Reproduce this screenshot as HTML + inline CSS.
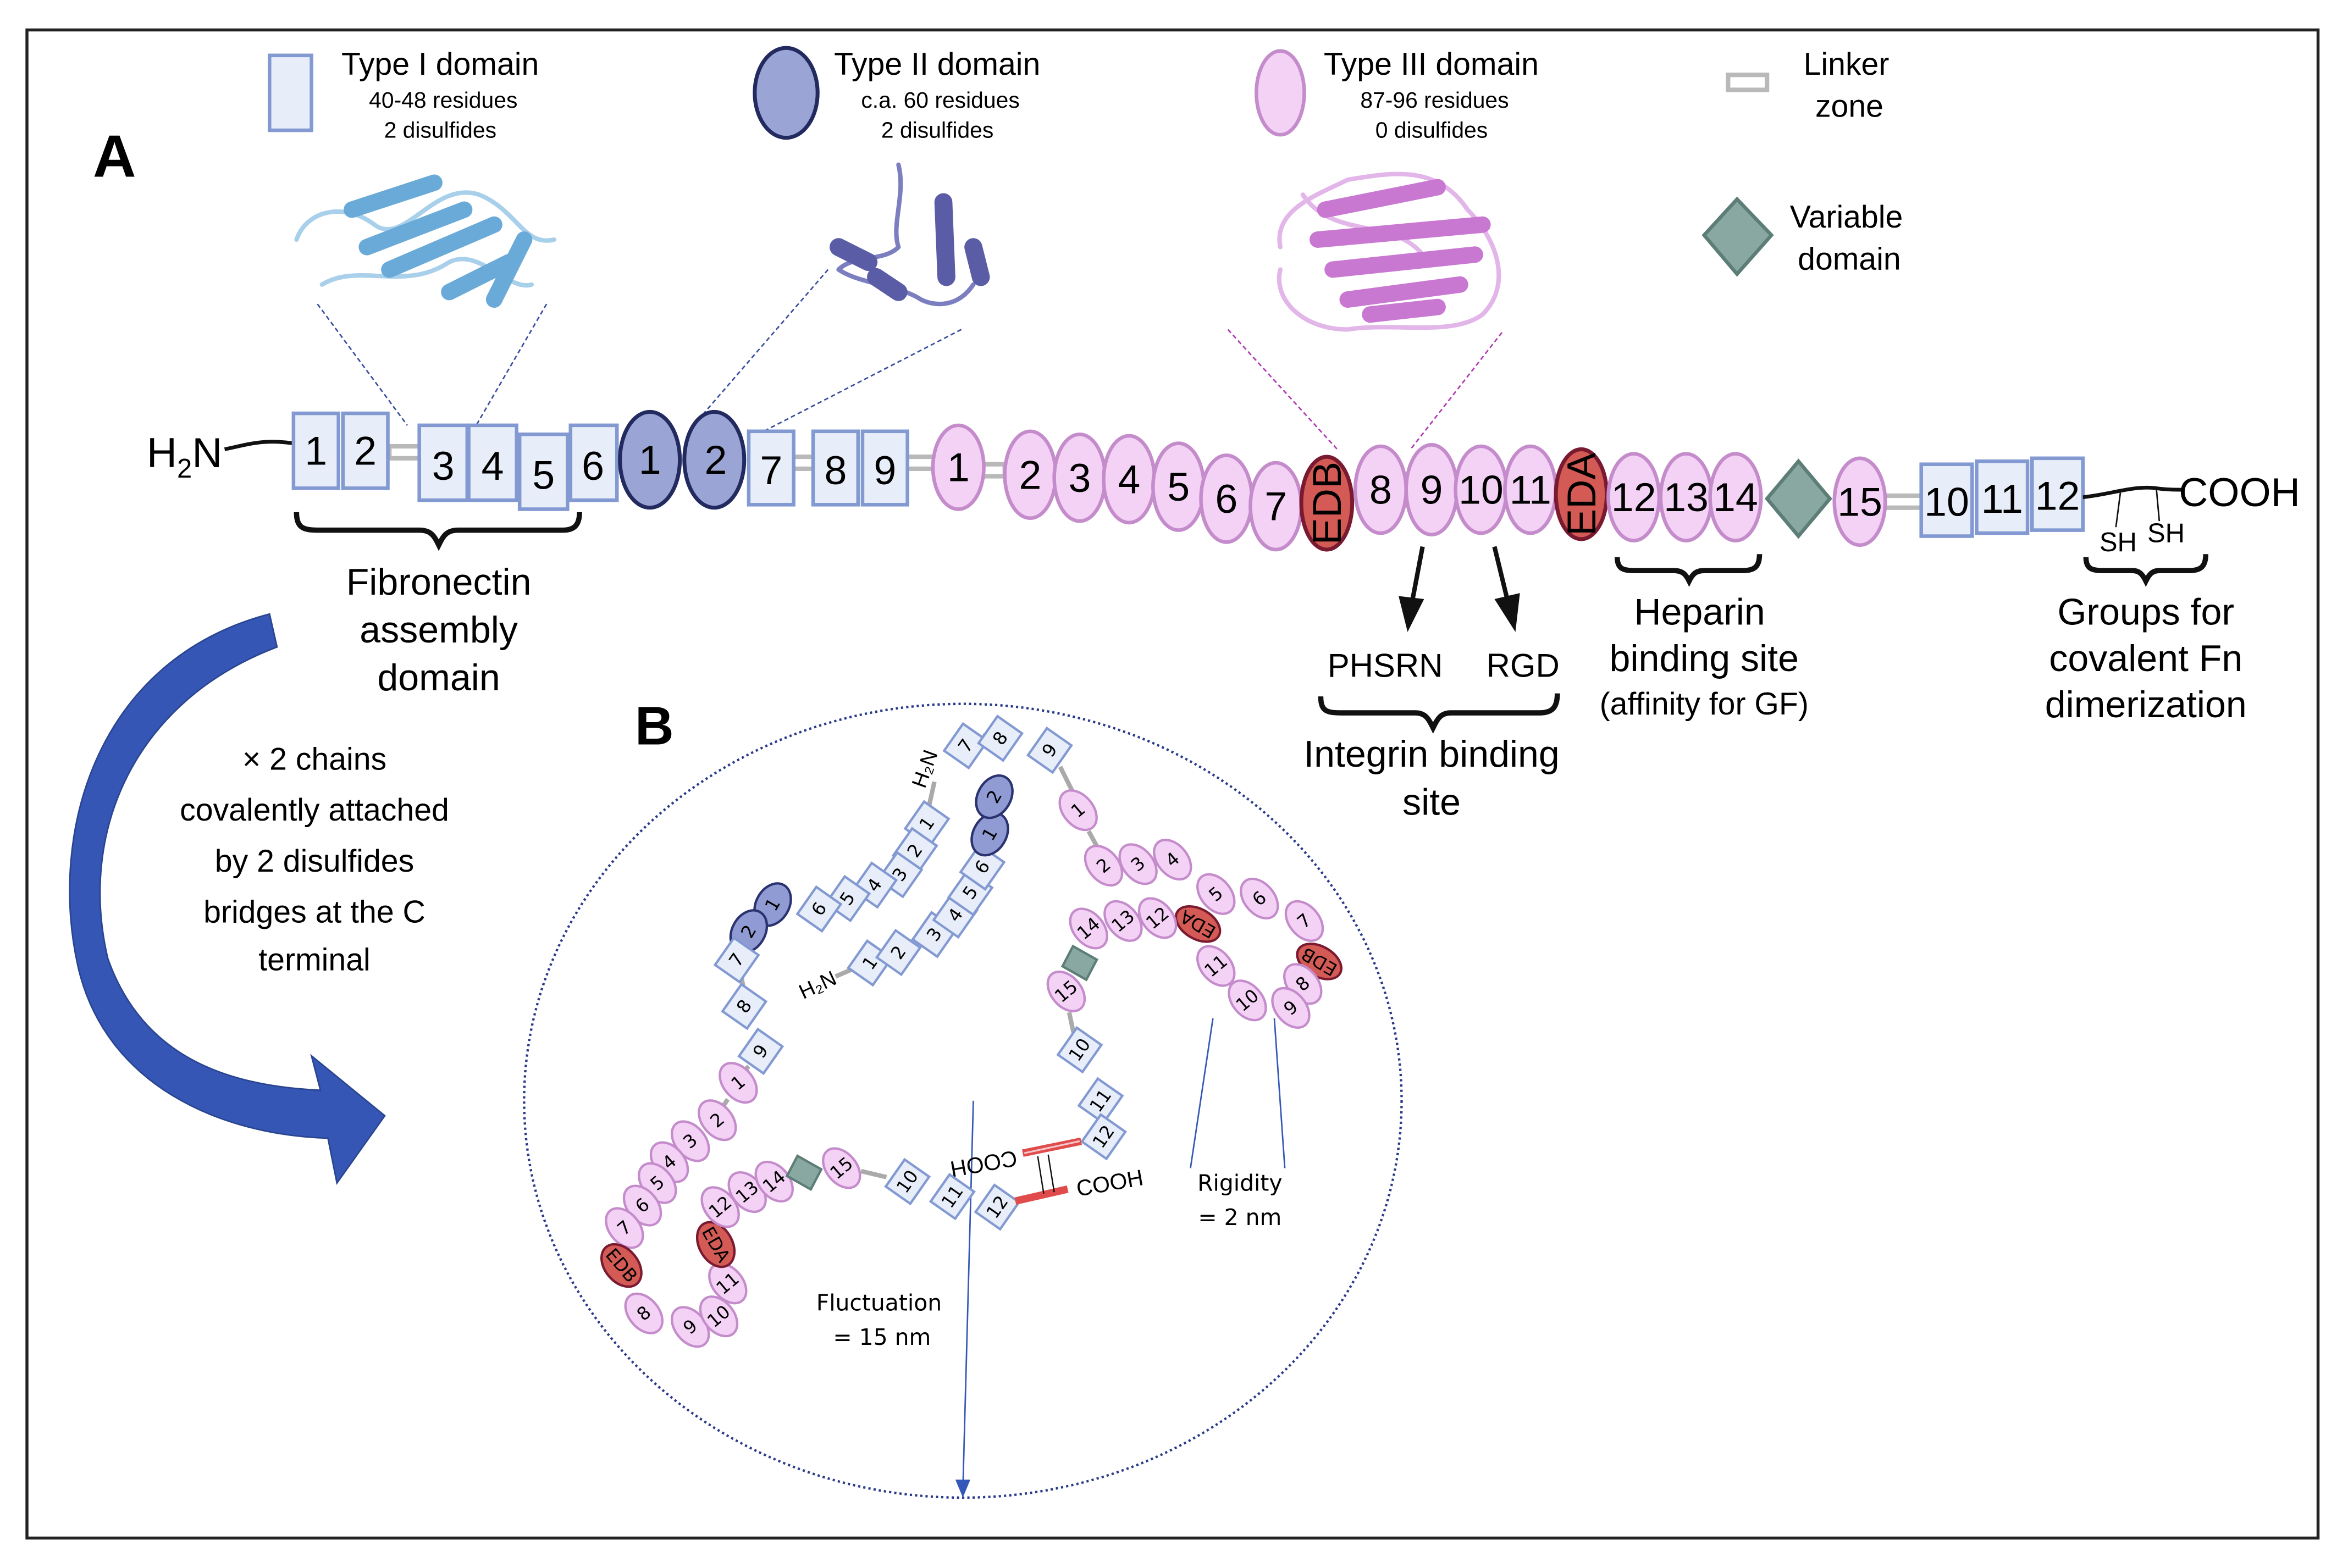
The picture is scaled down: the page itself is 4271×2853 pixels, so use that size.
<!DOCTYPE html>
<html><head><meta charset="utf-8">
<style>
html,body{margin:0;padding:0;background:#fff}
svg{display:block}
.t1{fill:#e8eef9;stroke:#8399d2;stroke-width:2.4}
.t2{fill:#9aa5d6;stroke:#222a60;stroke-width:2.6}
.t3{fill:#f3d2f6;stroke:#c58ccb;stroke-width:2.4}
.ed{fill:#d35a55;stroke:#7a1a30;stroke-width:2.6}
.dv{fill:#8aa8a2;stroke:#5d7d77;stroke-width:2.4}
.lk{fill:#fff;stroke:#b9b9b9;stroke-width:3}
text{font-family:"Liberation Sans Narrow","Liberation Sans",sans-serif;fill:#000}
.n{font-size:27px;text-anchor:middle;dominant-baseline:central}
.s{font-size:12px;text-anchor:middle;dominant-baseline:central;font-family:"DejaVu Sans","Liberation Sans",sans-serif}
.lab{font-size:25px;text-anchor:middle}
.c{font-family:"DejaVu Sans","Liberation Sans",sans-serif;text-anchor:middle}
.bt1{fill:#e8eef9;stroke:#8399d2;stroke-width:1.6}
.bt2{fill:#8f9bd2;stroke:#2a3270;stroke-width:1.6}
.bt3{fill:#f3d2f6;stroke:#c58ccb;stroke-width:1.6}
.bed{fill:#d35a55;stroke:#7a1a30;stroke-width:1.6}
</style></head><body>
<svg width="4271" height="2853" viewBox="0 0 1568 1047" preserveAspectRatio="none" xmlns="http://www.w3.org/2000/svg">
<rect x="0" y="0" width="1568" height="1047" fill="#fff"/>
<rect x="18" y="20" width="1530" height="1007" fill="none" stroke="#222" stroke-width="2"/>

<!-- Legend -->
<rect class="t1" x="180" y="37" width="28" height="50"/>
<text x="228" y="50" font-size="21">Type I domain</text>
<text x="296" y="72" font-size="15" text-anchor="middle">40-48 residues</text>
<text x="294" y="92" font-size="15" text-anchor="middle">2 disulfides</text>
<ellipse class="t2" cx="525" cy="62" rx="21" ry="30"/>
<text x="557" y="50" font-size="21">Type II domain</text>
<text x="628" y="72" font-size="15" text-anchor="middle">c.a. 60 residues</text>
<text x="626" y="92" font-size="15" text-anchor="middle">2 disulfides</text>
<ellipse class="t3" cx="855" cy="62" rx="16" ry="28"/>
<text x="884" y="50" font-size="21">Type III domain</text>
<text x="958" y="72" font-size="15" text-anchor="middle">87-96 residues</text>
<text x="956" y="92" font-size="15" text-anchor="middle">0 disulfides</text>
<rect class="lk" x="1154" y="50" width="26" height="10"/>
<text x="1233" y="50" font-size="21" text-anchor="middle">Linker</text>
<text x="1235" y="78" font-size="21" text-anchor="middle">zone</text>
<polygon class="dv" points="1160,133 1183,157 1160,183 1138,157"/>
<text x="1233" y="152" font-size="21" text-anchor="middle">Variable</text>
<text x="1235" y="180" font-size="21" text-anchor="middle">domain</text>
<text x="62" y="118" font-size="40" font-weight="bold" font-family="Liberation Sans,sans-serif">A</text>

<!-- protein cartoons -->
<g fill="none" stroke-linecap="round" stroke-linejoin="round">
<path d="M198,160 C205,140 230,135 250,150 C270,165 290,120 320,130 C345,140 350,165 370,160 M215,190 C240,175 270,195 300,175 C320,165 340,195 355,190" stroke="#a9d0ea" stroke-width="3"/>
<path d="M235,140 L290,122 M245,165 L310,140 M260,180 L330,150 M300,195 L340,175 M330,200 L350,160" stroke="#6aaad8" stroke-width="11"/>
<path d="M600,110 C605,130 595,150 600,165 C590,175 570,170 560,180 C575,190 600,190 615,200 C625,205 640,205 650,190" stroke="#7c7fbf" stroke-width="3"/>
<path d="M630,135 L632,185 M650,165 L655,185 M560,165 L580,175 M585,185 L600,195" stroke="#5a5ca6" stroke-width="12"/>
<path d="M855,165 C850,140 880,130 900,120 C930,115 960,110 980,140 C1000,160 1010,190 990,210 C970,225 930,215 900,220 C870,220 850,200 855,180 M870,130 C890,160 930,145 950,170" stroke="#e3b6ea" stroke-width="3"/>
<path d="M885,140 L960,125 M880,160 L990,150 M890,180 L985,170 M900,200 L975,190 M915,210 L960,205" stroke="#c978d2" stroke-width="11"/>
</g>
<g stroke-dasharray="3,2" stroke-width="1">
<line x1="212" y1="203" x2="272" y2="284" stroke="#3c4f9e"/>
<line x1="365" y1="203" x2="318" y2="284" stroke="#3c4f9e"/>
<line x1="553" y1="180" x2="470" y2="276" stroke="#3c4f9e"/>
<line x1="642" y1="220" x2="510" y2="288" stroke="#3c4f9e"/>
<line x1="820" y1="220" x2="893" y2="300" stroke="#b03ab4"/>
<line x1="1003" y1="222" x2="942" y2="300" stroke="#b03ab4"/>
</g>

<!-- main chain -->
<text x="98" y="312" font-size="28" font-family="Liberation Sans,sans-serif">H<tspan font-size="18" dy="7">2</tspan><tspan dy="-7">N</tspan></text>
<path d="M150,300 C165,297 175,293 196,296" stroke="#111" stroke-width="2.5" fill="none"/>
<rect class="lk" x="260" y="298" width="22" height="8"/>
<rect class="lk" x="528" y="305" width="18" height="8"/>
<rect class="lk" x="604" y="305" width="22" height="8"/>
<rect class="lk" x="655" y="310" width="16" height="8"/>
<rect class="lk" x="1258" y="331" width="26" height="8"/>
<rect class="t1" x="196" y="276" width="30" height="50"/><text class="n" x="211" y="301">1</text>
<rect class="t1" x="229" y="276" width="30" height="50"/><text class="n" x="244" y="301">2</text>
<rect class="t1" x="280" y="284" width="32" height="50"/><text class="n" x="296" y="311">3</text>
<rect class="t1" x="313" y="284" width="32" height="50"/><text class="n" x="329" y="311">4</text>
<rect class="t1" x="347" y="290" width="32" height="50"/><text class="n" x="363" y="317">5</text>
<rect class="t1" x="381" y="284" width="31" height="50"/><text class="n" x="396" y="311">6</text>
<ellipse class="t2" cx="434" cy="307" rx="20" ry="32"/><text class="n" x="434" y="307">1</text>
<ellipse class="t2" cx="477" cy="307" rx="20" ry="32"/><text class="n" x="478" y="307">2</text>
<rect class="t1" x="500" y="288" width="30" height="49"/><text class="n" x="515" y="314">7</text>
<rect class="t1" x="543" y="288" width="30" height="49"/><text class="n" x="558" y="314">8</text>
<rect class="t1" x="576" y="288" width="30" height="49"/><text class="n" x="591" y="314">9</text>
<ellipse class="t3" cx="640" cy="312" rx="17" ry="28"/><text class="n" x="640" y="312">1</text>
<ellipse class="t3" cx="688" cy="317" rx="17" ry="29"/><text class="n" x="688" y="317">2</text>
<ellipse class="t3" cx="721" cy="319" rx="17" ry="29"/><text class="n" x="721" y="319">3</text>
<ellipse class="t3" cx="754" cy="320" rx="17" ry="29"/><text class="n" x="754" y="320">4</text>
<ellipse class="t3" cx="787" cy="325" rx="17" ry="29"/><text class="n" x="787" y="325">5</text>
<ellipse class="t3" cx="819" cy="333" rx="17" ry="29"/><text class="n" x="819" y="333">6</text>
<ellipse class="t3" cx="852" cy="338" rx="17" ry="29"/><text class="n" x="852" y="338">7</text>
<ellipse class="ed" cx="886" cy="336" rx="17" ry="31"/><text class="n" x="886" y="336" transform="rotate(-90 886 336)" font-size="22">EDB</text>
<ellipse class="t3" cx="922" cy="327" rx="17" ry="29"/><text class="n" x="922" y="327">8</text>
<ellipse class="t3" cx="956" cy="327" rx="17" ry="30"/><text class="n" x="956" y="327">9</text>
<ellipse class="t3" cx="989" cy="327" rx="17" ry="29"/><text class="n" x="989" y="327" font-size="24">10</text>
<ellipse class="t3" cx="1022" cy="327" rx="17" ry="29"/><text class="n" x="1022" y="327" font-size="24">11</text>
<ellipse class="ed" cx="1056" cy="330" rx="17" ry="30"/><text class="n" x="1056" y="330" transform="rotate(-90 1056 330)" font-size="22">EDA</text>
<ellipse class="t3" cx="1091" cy="332" rx="17" ry="29"/><text class="n" x="1091" y="332" font-size="24">12</text>
<ellipse class="t3" cx="1126" cy="332" rx="17" ry="29"/><text class="n" x="1126" y="332" font-size="24">13</text>
<ellipse class="t3" cx="1159" cy="332" rx="17" ry="29"/><text class="n" x="1159" y="332" font-size="24">14</text>
<polygon class="dv" points="1201,308 1222,333 1201,358 1180,333"/>
<ellipse class="t3" cx="1242" cy="335" rx="17" ry="29"/><text class="n" x="1242" y="335" font-size="24">15</text>
<rect class="t1" x="1283" y="310" width="34" height="48"/><text class="n" x="1300" y="335" font-size="24">10</text>
<rect class="t1" x="1320" y="308" width="34" height="48"/><text class="n" x="1337" y="333" font-size="24">11</text>
<rect class="t1" x="1357" y="306" width="34" height="48"/><text class="n" x="1374" y="331" font-size="24">12</text>
<path d="M1391,332 C1410,330 1425,324 1440,326 C1447,327 1452,327 1458,327" stroke="#111" stroke-width="2.5" fill="none"/>
<line x1="1416" y1="329" x2="1413" y2="352" stroke="#111" stroke-width="1"/>
<line x1="1440" y1="326" x2="1442" y2="348" stroke="#111" stroke-width="1"/>
<text x="1455" y="338" font-size="27" font-family="Liberation Sans,sans-serif">COOH</text>
<text x="1402" y="368" font-size="18">SH</text><text x="1434" y="362" font-size="18">SH</text>

<!-- braces -->
<g fill="none" stroke="#111" stroke-width="3.5">
<path d="M198,342 C198,352 202,354 212,354 L280,354 C288,354 290,358 293,364 C296,358 298,354 306,354 L376,354 C384,354 387,350 387,342"/>
<path d="M1080,372 C1080,380 1084,381 1092,381 L1118,381 C1124,381 1126,384 1128,388 C1130,384 1132,381 1138,381 L1164,381 C1172,381 1175,378 1175,370"/>
<path d="M1393,372 C1393,380 1397,381 1405,381 L1424,381 C1429,381 1431,384 1433,388 C1435,384 1437,381 1442,381 L1462,381 C1470,381 1473,378 1473,370"/>
<path d="M882,465 C882,475 886,476 896,476 L945,476 C952,476 954,480 957,486 C960,480 962,476 969,476 L1028,476 C1037,476 1040,472 1040,463"/>
</g>
<g stroke="#111" stroke-width="3">
<line x1="950" y1="365" x2="943" y2="402"/>
<line x1="998" y1="365" x2="1007" y2="402"/>
</g>
<polygon points="934,398 951,400 940,422" fill="#111"/>
<polygon points="998,400 1015,396 1012,422" fill="#111"/>

<text class="lab" x="293" y="397">Fibronectin</text>
<text class="lab" x="293" y="429">assembly</text>
<text class="lab" x="293" y="461">domain</text>
<text x="925" y="452" font-size="22" text-anchor="middle">PHSRN</text>
<text x="1017" y="452" font-size="22" text-anchor="middle">RGD</text>
<text class="lab" x="956" y="512">Integrin binding</text>
<text class="lab" x="956" y="544">site</text>
<text class="lab" x="1135" y="417">Heparin</text>
<text class="lab" x="1138" y="448">binding site</text>
<text x="1138" y="477" font-size="21" text-anchor="middle">(affinity for GF)</text>
<text class="lab" x="1433" y="417">Groups for</text>
<text class="lab" x="1433" y="448">covalent Fn</text>
<text class="lab" x="1433" y="479">dimerization</text>

<!-- curved arrow -->
<path d="M180,410 L185,432 C90,468 52,555 72,640 C95,705 150,725 214,728 L208,705 L257,745 L225,790 L219,760 C148,758 70,725 52,645 C32,555 65,440 180,410 Z" fill="#3556b4" stroke="#2a4590" stroke-width="1"/>
<g class="c" font-size="21">
<text x="210" y="514">× 2 chains</text>
<text x="210" y="548">covalently attached</text>
<text x="210" y="582">by 2 disulfides</text>
<text x="210" y="616">bridges at the C</text>
<text x="210" y="648">terminal</text>
</g>

<!-- B -->
<text x="424" y="497" font-size="36" font-weight="bold" font-family="Liberation Sans,sans-serif">B</text>
<ellipse cx="643" cy="735" rx="293" ry="265" fill="none" stroke="#2a3a8a" stroke-width="1.6" stroke-dasharray="1.5,2"/>
<line x1="650" y1="735" x2="643" y2="995" stroke="#3558b8" stroke-width="1"/>
<polygon points="638,988 648,988 643,1000" fill="#3558b8"/>
<line x1="810" y1="680" x2="795" y2="780" stroke="#3558b8" stroke-width="1"/>
<line x1="851" y1="680" x2="858" y2="780" stroke="#3558b8" stroke-width="1"/>
<text class="c" x="828" y="795" font-size="15">Rigidity</text>
<text class="c" x="828" y="818" font-size="15">= 2 nm</text>
<text class="c" x="587" y="875" font-size="15">Fluctuation</text>
<text class="c" x="589" y="898" font-size="15">= 15 nm</text>

<!-- linkers B -->
<g stroke="#aaa" stroke-width="3">
<line x1="558" y1="652" x2="572" y2="646"/>
<line x1="624" y1="522" x2="620" y2="540"/>
<line x1="656" y1="497" x2="658" y2="490"/>
<line x1="708" y1="512" x2="716" y2="528"/>
<line x1="727" y1="555" x2="733" y2="566"/>
<line x1="714" y1="676" x2="717" y2="690"/>
<line x1="495" y1="652" x2="497" y2="662"/>
<line x1="500" y1="712" x2="496" y2="716"/>
<line x1="486" y1="734" x2="482" y2="740"/>
<line x1="575" y1="782" x2="592" y2="786"/>
</g>

<!-- chain 1 -->
<text x="548" y="662" font-size="14" font-family="Liberation Sans,sans-serif" text-anchor="middle" transform="rotate(-25 548 662)">H₂N</text>
<g transform="translate(581,643) rotate(35)"><rect class="bt1" x="-10" y="-11" width="20" height="22"/><text class="s" transform="rotate(-90)">1</text></g>
<g transform="translate(600,636) rotate(35)"><rect class="bt1" x="-10" y="-11" width="20" height="22"/><text class="s" transform="rotate(-90)">2</text></g>
<g transform="translate(624,624) rotate(35)"><rect class="bt1" x="-10" y="-11" width="20" height="22"/><text class="s" transform="rotate(-90)">3</text></g>
<g transform="translate(638,611) rotate(35)"><rect class="bt1" x="-10" y="-11" width="20" height="22"/><text class="s" transform="rotate(-90)">4</text></g>
<g transform="translate(648,596) rotate(35)"><rect class="bt1" x="-10" y="-11" width="20" height="22"/><text class="s" transform="rotate(-90)">5</text></g>
<g transform="translate(656,579) rotate(35)"><rect class="bt1" x="-10" y="-11" width="20" height="22"/><text class="s" transform="rotate(-90)">6</text></g>
<g transform="translate(661,557) rotate(30)"><ellipse class="bt2" rx="11" ry="15"/><text class="s" transform="rotate(-90)">1</text></g>
<g transform="translate(664,532) rotate(30)"><ellipse class="bt2" rx="11" ry="15"/><text class="s" transform="rotate(-90)">2</text></g>
<g transform="translate(645,498) rotate(35)"><rect class="bt1" x="-10" y="-11" width="20" height="22"/><text class="s" transform="rotate(-90)">7</text></g>
<g transform="translate(668,493) rotate(35)"><rect class="bt1" x="-10" y="-11" width="20" height="22"/><text class="s" transform="rotate(-90)">8</text></g>
<g transform="translate(701,501) rotate(35)"><rect class="bt1" x="-10" y="-11" width="20" height="22"/><text class="s" transform="rotate(-90)">9</text></g>
<g transform="translate(720,541) rotate(-40)"><ellipse class="bt3" rx="10" ry="15"/><text class="s">1</text></g>
<g transform="translate(737,578) rotate(-40)"><ellipse class="bt3" rx="10" ry="15"/><text class="s">2</text></g>
<g transform="translate(760,577) rotate(-40)"><ellipse class="bt3" rx="10" ry="15"/><text class="s">3</text></g>
<g transform="translate(783,574) rotate(-40)"><ellipse class="bt3" rx="10" ry="15"/><text class="s">4</text></g>
<g transform="translate(812,597) rotate(-40)"><ellipse class="bt3" rx="10" ry="15"/><text class="s">5</text></g>
<g transform="translate(841,600) rotate(-40)"><ellipse class="bt3" rx="10" ry="15"/><text class="s">6</text></g>
<g transform="translate(871,615) rotate(-40)"><ellipse class="bt3" rx="10" ry="15"/><text class="s">7</text></g>
<g transform="translate(881,642) rotate(-60)"><ellipse class="bed" rx="10" ry="16"/><text class="s" font-size="10" transform="rotate(-90)">EDB</text></g>
<g transform="translate(870,657) rotate(-40)"><ellipse class="bt3" rx="10" ry="15"/><text class="s">8</text></g>
<g transform="translate(862,673) rotate(-40)"><ellipse class="bt3" rx="10" ry="15"/><text class="s">9</text></g>
<g transform="translate(833,668) rotate(-40)"><ellipse class="bt3" rx="10" ry="15"/><text class="s">10</text></g>
<g transform="translate(812,645) rotate(-40)"><ellipse class="bt3" rx="10" ry="15"/><text class="s">11</text></g>
<g transform="translate(800,617) rotate(-60)"><ellipse class="bed" rx="10" ry="16"/><text class="s" font-size="10" transform="rotate(-90)">EDA</text></g>
<g transform="translate(773,613) rotate(-40)"><ellipse class="bt3" rx="10" ry="15"/><text class="s">12</text></g>
<g transform="translate(750,615) rotate(-40)"><ellipse class="bt3" rx="10" ry="15"/><text class="s">13</text></g>
<g transform="translate(727,620) rotate(-40)"><ellipse class="bt3" rx="10" ry="15"/><text class="s">14</text></g>
<g transform="translate(721,643) rotate(20)"><polygon points="-8,-9 10,-6 8,9 -10,6" fill="#8aa8a2" stroke="#5d7d77" stroke-width="1.6"/></g>
<g transform="translate(712,662) rotate(-40)"><ellipse class="bt3" rx="10" ry="15"/><text class="s">15</text></g>
<g transform="translate(721,701) rotate(35)"><rect class="bt1" x="-10" y="-11" width="20" height="22"/><text class="s" transform="rotate(-90)">10</text></g>
<g transform="translate(735,735) rotate(35)"><rect class="bt1" x="-10" y="-11" width="20" height="22"/><text class="s" transform="rotate(-90)">11</text></g>
<g transform="translate(737,759) rotate(35)"><rect class="bt1" x="-10" y="-11" width="20" height="22"/><text class="s" transform="rotate(-90)">12</text></g>
<line x1="683" y1="770" x2="722" y2="762" stroke="#e04c4c" stroke-width="5"/>
<line x1="684" y1="770" x2="721" y2="762" stroke="#f4c8c8" stroke-width="1.2"/>
<text x="656" y="772" font-size="15" font-family="DejaVu Sans,sans-serif" text-anchor="middle" transform="rotate(170 656 772)">COOH</text>
<!-- chain 2 -->
<text x="622" y="515" font-size="14" font-family="Liberation Sans,sans-serif" text-anchor="middle" transform="rotate(-70 622 515)">H₂N</text>
<g transform="translate(619,550) rotate(35)"><rect class="bt1" x="-10" y="-11" width="20" height="22"/><text class="s" transform="rotate(-90)">1</text></g>
<g transform="translate(611,568) rotate(35)"><rect class="bt1" x="-10" y="-11" width="20" height="22"/><text class="s" transform="rotate(-90)">2</text></g>
<g transform="translate(601,584) rotate(35)"><rect class="bt1" x="-10" y="-11" width="20" height="22"/><text class="s" transform="rotate(-90)">3</text></g>
<g transform="translate(584,591) rotate(35)"><rect class="bt1" x="-10" y="-11" width="20" height="22"/><text class="s" transform="rotate(-90)">4</text></g>
<g transform="translate(566,600) rotate(35)"><rect class="bt1" x="-10" y="-11" width="20" height="22"/><text class="s" transform="rotate(-90)">5</text></g>
<g transform="translate(547,607) rotate(35)"><rect class="bt1" x="-10" y="-11" width="20" height="22"/><text class="s" transform="rotate(-90)">6</text></g>
<g transform="translate(516,604) rotate(30)"><ellipse class="bt2" rx="11" ry="15"/><text class="s" transform="rotate(-90)">1</text></g>
<g transform="translate(500,622) rotate(30)"><ellipse class="bt2" rx="11" ry="15"/><text class="s" transform="rotate(-90)">2</text></g>
<g transform="translate(492,641) rotate(35)"><rect class="bt1" x="-10" y="-11" width="20" height="22"/><text class="s" transform="rotate(-90)">7</text></g>
<g transform="translate(497,672) rotate(35)"><rect class="bt1" x="-10" y="-11" width="20" height="22"/><text class="s" transform="rotate(-90)">8</text></g>
<g transform="translate(508,702) rotate(35)"><rect class="bt1" x="-10" y="-11" width="20" height="22"/><text class="s" transform="rotate(-90)">9</text></g>
<g transform="translate(493,723) rotate(-40)"><ellipse class="bt3" rx="10" ry="15"/><text class="s">1</text></g>
<g transform="translate(479,748) rotate(-40)"><ellipse class="bt3" rx="10" ry="15"/><text class="s">2</text></g>
<g transform="translate(461,762) rotate(-40)"><ellipse class="bt3" rx="10" ry="15"/><text class="s">3</text></g>
<g transform="translate(447,776) rotate(-40)"><ellipse class="bt3" rx="10" ry="15"/><text class="s">4</text></g>
<g transform="translate(439,790) rotate(-40)"><ellipse class="bt3" rx="10" ry="15"/><text class="s">5</text></g>
<g transform="translate(429,805) rotate(-40)"><ellipse class="bt3" rx="10" ry="15"/><text class="s">6</text></g>
<g transform="translate(417,820) rotate(-40)"><ellipse class="bt3" rx="10" ry="15"/><text class="s">7</text></g>
<g transform="translate(415,845) rotate(-40)"><ellipse class="bed" rx="11" ry="16"/><text class="s" font-size="10" transform="rotate(90)">EDB</text></g>
<g transform="translate(430,877) rotate(-40)"><ellipse class="bt3" rx="10" ry="15"/><text class="s">8</text></g>
<g transform="translate(461,886) rotate(-40)"><ellipse class="bt3" rx="10" ry="15"/><text class="s">9</text></g>
<g transform="translate(480,879) rotate(-40)"><ellipse class="bt3" rx="10" ry="15"/><text class="s">10</text></g>
<g transform="translate(486,857) rotate(-40)"><ellipse class="bt3" rx="10" ry="15"/><text class="s">11</text></g>
<g transform="translate(478,831) rotate(-30)"><ellipse class="bed" rx="11" ry="16"/><text class="s" font-size="10" transform="rotate(90)">EDA</text></g>
<g transform="translate(481,806) rotate(-40)"><ellipse class="bt3" rx="10" ry="15"/><text class="s">12</text></g>
<g transform="translate(499,796) rotate(-40)"><ellipse class="bt3" rx="10" ry="15"/><text class="s">13</text></g>
<g transform="translate(517,789) rotate(-40)"><ellipse class="bt3" rx="10" ry="15"/><text class="s">14</text></g>
<g transform="translate(537,783) rotate(20)"><polygon points="-8,-9 10,-6 8,9 -10,6" fill="#8aa8a2" stroke="#5d7d77" stroke-width="1.6"/></g>
<g transform="translate(562,780) rotate(-40)"><ellipse class="bt3" rx="10" ry="15"/><text class="s">15</text></g>
<g transform="translate(606,789) rotate(35)"><rect class="bt1" x="-10" y="-11" width="20" height="22"/><text class="s" transform="rotate(-90)">10</text></g>
<g transform="translate(636,799) rotate(35)"><rect class="bt1" x="-10" y="-11" width="20" height="22"/><text class="s" transform="rotate(-90)">11</text></g>
<g transform="translate(666,806) rotate(35)"><rect class="bt1" x="-10" y="-11" width="20" height="22"/><text class="s" transform="rotate(-90)">12</text></g>
<line x1="678" y1="802" x2="713" y2="794" stroke="#e04c4c" stroke-width="5"/>
<g stroke="#111" stroke-width="0.9">
<line x1="693" y1="772" x2="697" y2="797"/><line x1="700" y1="771" x2="704" y2="796"/>
</g>
<text x="742" y="795" font-size="15" font-family="DejaVu Sans,sans-serif" text-anchor="middle" transform="rotate(-10 742 795)">COOH</text>
</svg>
</body></html>
